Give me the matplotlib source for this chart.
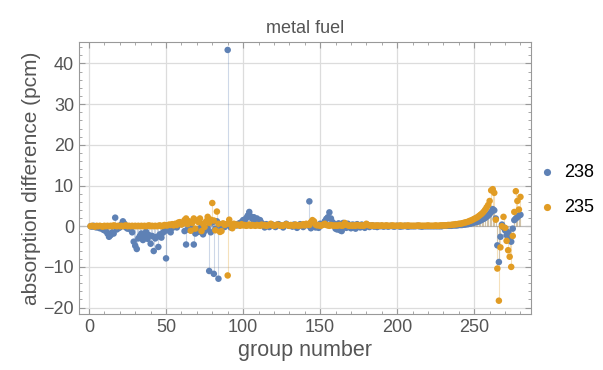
import numpy as np
import matplotlib.pyplot as plt
from matplotlib.ticker import MultipleLocator

plt.rcParams['font.family'] = ['Liberation Sans', 'DejaVu Sans']

# absorption difference (pcm) per energy group
s238 = [0.0, -0.1, 0.1, -0.2, -0.3, -0.2, -0.5, -0.4, -0.8, -1.0,
        -1.2, -1.8, -2.6, -2.2, -1.5, -1.8, 2.1, -0.8, -0.5, -0.3,
        0.4, 1.2, 0.6, -0.3, -0.6, -0.4, -0.8, -1.5, -3.8, -4.8,
        -5.6, -3.0, -2.4, -1.8, -3.4, -2.6, -1.4, -3.1, -2.2, -4.3,
        -2.4, -6.1, -3.0, -2.6, -5.1, -2.0, -2.8, -1.6, -1.2, -7.9,
        -1.0, -0.6, -1.5, -0.4, -0.2, 0.2, -0.3, 0.4, 0.6, 0.5,
        0.8, -1.2, -4.5, -0.8, 0.7, -1.0, -0.5, -4.5, -1.8, -0.9,
        -1.4, -0.6, 0.5, -2.0, -1.2, -0.8, -0.5, -11.0, -1.5, 0.9,
        -11.7, -0.6, 1.2, -12.9, 0.5, -0.4, 0.3, -0.2, 0.4, 43.3,
        0.2, -0.3, 0.1, 0.3, 0.4, 0.2, 0.6, 0.8, 1.0, 1.5,
        1.2, 2.0, 2.6, 3.5, 2.4, 1.8, 2.2, 1.6, 1.9, 1.2,
        1.5, 0.8, 0.4, -0.3, 0.5, 0.3, -0.2, 0.2, 0.4, 0.1,
        -0.2, 0.3, 0.5, 0.2, 0.1, -0.3, 0.2, 0.6, 0.3, 0.1,
        0.2, -0.1, 0.4, 0.3, -0.4, 0.2, 0.5, 0.1, -0.2, 0.3,
        0.4, 0.2, 6.1, -0.5, 0.3, 0.8, -0.3, 0.2, -0.4, 0.6,
        0.3, 0.5, 1.2, 1.8, 2.2, 3.4, 1.9, 1.0, 0.6, -0.6,
        -0.8, 0.7, -1.0, -1.2, 0.8, 0.5, -0.4, 0.6, 0.2, -0.5,
        0.4, 0.3, -0.6, 0.5, 0.2, -0.3, 0.4, 0.1, -0.4, 0.2,
        0.3, -0.2, 0.1, 0.2, -0.1, 0.1, -0.2, 0.1, 0.0, 0.1,
        -0.1, 0.0, 0.1, -0.1, 0.0, 0.1, 0.0, -0.1, 0.0, 0.1,
        0.0, -0.1, 0.0, 0.0, 0.1, 0.0, -0.1, 0.0, 0.0, 0.0,
        0.0, 0.0, 0.1, 0.0, 0.0, -0.1, 0.0, 0.0, 0.0, 0.0,
        0.0, 0.0, 0.0, 0.0, 0.0, 0.0, 0.0, 0.0, 0.0, 0.1,
        0.1, 0.1, 0.1, 0.1, 0.1, 0.2, 0.2, 0.2, 0.2, 0.3,
        0.3, 0.3, 0.4, 0.4, 0.5, 0.5, 0.6, 0.7, 0.8, 0.9,
        1.0, 1.1, 1.2, 1.4, 1.6, 1.8, 2.0, 2.3, 2.6, 3.0,
        3.5, 4.2, 3.9, 1.9, -4.7, -8.8, -2.6, 0.4, -0.3, -1.0,
        -2.2, -1.5, -3.0, -3.8, -0.6, 1.5, 1.9, 2.2, 2.6, 2.8]

s235 = [0.0, 0.1, 0.0, -0.1, 0.1, 0.0, 0.1, 0.0, -0.1, 0.1,
        0.0, 0.1, 0.0, 0.1, 0.0, 0.2, 0.1, 0.0, 0.1, 0.0,
        0.1, 0.0, 0.1, 0.2, 0.0, 0.1, 0.0, 0.1, 0.0, 0.1,
        0.0, 0.1, 0.0, 0.1, 0.0, 0.1, 0.0, 0.1, 0.2, 0.0,
        0.1, 0.0, 0.1, 0.0, 0.1, 0.2, 0.0, 0.1, 0.3, 0.2,
        0.2, 0.4, 0.3, 0.5, 0.2, 0.6, 0.3, 0.9, 1.0, 0.4,
        0.7, 1.5, 1.9, 0.5, 1.2, -1.1, 0.8, 1.9, -0.6, 1.4,
        1.0, 1.9, -1.2, 0.6, -0.2, 1.2, 2.3, 0.8, 1.6, 5.7,
        1.4, -1.0, 3.6, 0.6, -1.4, -1.2, 0.7, 0.3, 0.5, -12.1,
        1.6, 0.4, -0.5, 0.6, 0.2, 0.4, 0.3, 0.1, 0.5, 0.2,
        0.3, 0.1, 0.2, 0.4, 0.1, 0.3, 0.2, 0.1, 0.3, 0.2,
        0.1, 0.4, 0.2, 0.3, 0.1, 0.2, 0.3, 0.6, 0.2, 0.1,
        0.2, 0.4, 0.3, 0.1, 0.2, 0.1, 0.3, 0.5, 0.2, 0.1,
        0.3, 0.2, 0.1, 0.4, 0.2, 0.1, 0.3, 0.2, 0.5, 0.2,
        0.6, 0.4, 0.3, 1.0, 1.5, 1.2, 0.4, 0.2, 0.3, 0.1,
        0.2, 0.4, 0.6, 0.3, 0.2, 0.1, 0.3, 0.2, 0.1, 0.2,
        0.1, 0.2, 0.3, 0.1, 0.2, 0.8, 0.4, 0.2, 0.1, 0.2,
        0.1, 0.2, 0.1, 0.3, 0.2, 0.1, 0.2, 0.1, 0.2, 0.6,
        0.3, 0.2, 0.1, 0.2, 0.1, 0.1, 0.2, 0.1, 0.1, 0.2,
        0.1, 0.1, 0.2, 0.1, 0.1, 0.1, 0.2, 0.1, 0.1, 0.1,
        0.1, 0.2, 0.1, 0.1, 0.1, 0.1, 0.2, 0.1, 0.1, 0.1,
        0.1, 0.1, 0.1, 0.2, 0.1, 0.1, 0.1, 0.1, 0.1, 0.2,
        0.1, 0.1, 0.1, 0.1, 0.2, 0.1, 0.1, 0.2, 0.2, 0.2,
        0.2, 0.2, 0.3, 0.3, 0.3, 0.4, 0.4, 0.5, 0.5, 0.6,
        0.6, 0.7, 0.8, 0.9, 1.0, 1.1, 1.3, 1.4, 1.6, 1.8,
        2.0, 2.2, 2.5, 2.8, 3.1, 3.5, 4.0, 4.6, 5.2, 6.2,
        8.8, 9.1, 8.2, 1.6, -10.4, -18.3, -5.2, 0.0, 2.3, -0.4,
        -3.6, -5.9, -7.5, -10.0, -2.4, 3.5, 8.6, 6.2, 4.1, 7.2]

series_names = ['238', '235']
colors = ['#5E81B5', '#E19C24']
groups = np.arange(1, len(s238) + 1)

fig = plt.figure(figsize=(6.03, 3.70), dpi=100)
ax = fig.add_axes([0.131, 0.151, 0.750, 0.736])

for vals, c in zip([s238, s235], colors):
    ax.vlines(groups, 0, vals, color=c, alpha=0.3, lw=0.8, zorder=2)
for vals, c, name in zip([s238, s235], colors, series_names):
    ax.scatter(groups, vals, s=22, color=c, edgecolors='none', zorder=3, label=name)

ax.set_xlim(-6.5, 287)
ax.set_ylim(-21.6, 45.3)
ax.xaxis.set_major_locator(MultipleLocator(50))
ax.xaxis.set_minor_locator(MultipleLocator(10))
ax.yaxis.set_major_locator(MultipleLocator(10))
ax.yaxis.set_minor_locator(MultipleLocator(2))
ax.grid(True, which='major', color='#dcdcdc', lw=0.9, zorder=0)
ax.set_axisbelow(True)
ax.axhline(0, color='#bbbbbb', lw=0.8, zorder=1)

for sp in ax.spines.values():
    sp.set_color('#999999')
ax.tick_params(which='both', direction='in', top=True, right=True,
               color='#999999', labelcolor='#555555', labelsize=13)
ax.tick_params(which='major', length=4)
ax.tick_params(which='minor', length=2)

ax.set_title('metal fuel', fontsize=13, color='#555555', pad=6)
ax.set_xlabel('group number', fontsize=15.5, color='#555555', labelpad=3)
ax.set_ylabel('absorption difference (pcm)', fontsize=15, color='#555555', labelpad=2)

ax.legend(loc='center left', bbox_to_anchor=(1.0, 0.455), frameon=False,
          fontsize=13, handlelength=1.0, handletextpad=0.4, borderaxespad=0.0,
          borderpad=0.4, labelspacing=1.0, scatterpoints=1, markerscale=1.1)

fig.savefig('out.png', dpi=100)
